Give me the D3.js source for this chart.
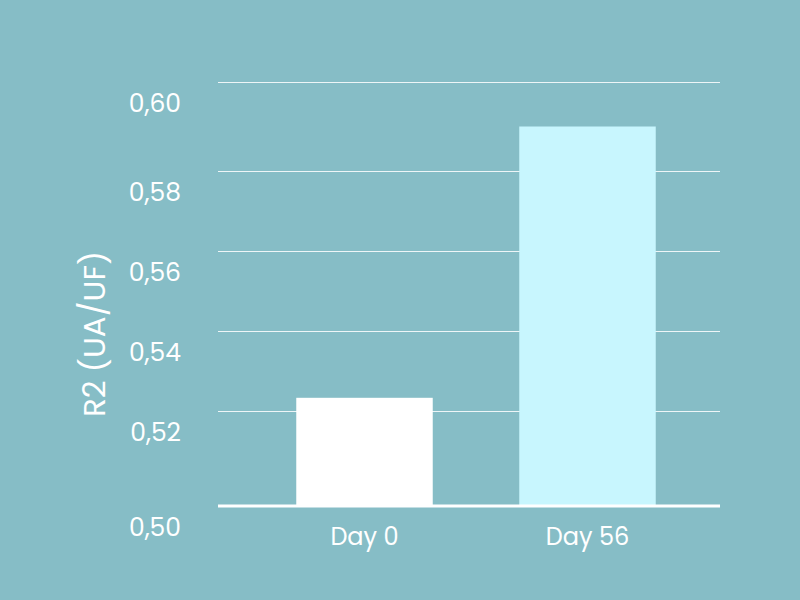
<!DOCTYPE html>
<html>
<head>
<meta charset="utf-8">
<style>
	body { margin: 0; background: #86bdc6; }
	.vis-r2 { width: 800px; height: 600px; }
	.grid-r2 { stroke: #ffffff; stroke-width: 1; stroke-opacity: 0.85; }
	.base-r2 { stroke: #ffffff; stroke-width: 3; }
	.tick-r2, .cat-r2, .title-r2 {
		fill: #ffffff;
		font-family: Poppins, "Noto Sans", sans-serif;
	}
</style>
</head>
<body>
<div class="vis-r2"></div>

<script src="https://d3js.org/d3.v7.min.js"></script>
<script>

	// Data
	let categories = ["Day 0", "Day 56"];
	let values = [0.5233, 0.590];
	let barColors = ["#ffffff", "#c8f6fe"];
	let tickValues = [0.50, 0.52, 0.54, 0.56, 0.58, 0.60];
	let tickLabels = ["0,50", "0,52", "0,54", "0,56", "0,58", "0,60"];

	// Setup
	let width = 800, height = 600;

	let svg = d3.select(".vis-r2")
		.append("svg")
			.attr("width", width)
			.attr("height", height);

	svg.append("rect")
		.attr("width", width)
		.attr("height", height)
		.style("fill", "#86bdc6");

	// Scales (the original axis is not evenly spaced at its ends)
	let y = d3.scaleLinear()
		.domain([0.50, 0.52, 0.58, 0.60])
		.range([506, 411, 171, 82]);

	let x = d3.scaleBand()
		.domain(categories)
		.range([253, 699])
		.paddingInner(0.388)
		.paddingOuter(0.194);

	let plotLeft = 218, plotRight = 720;

	// Gridlines
	svg.selectAll(".grid-r2")
		.data(tickValues.slice(1))
		.enter().append("line")
		.attr("class", "grid-r2")
		.attr("x1", plotLeft)
		.attr("x2", plotRight)
		.attr("y1", d => Math.round(y(d)) + 0.5)
		.attr("y2", d => Math.round(y(d)) + 0.5);

	// Tick labels, drawn below their lines
	svg.selectAll(".tick-r2")
		.data(tickValues)
		.enter().append("text")
		.attr("class", "tick-r2")
		.attr("x", 181)
		.attr("y", d => y(d) + 21)
		.attr("dy", "0.35em")
		.style("text-anchor", "end")
		.style("font-size", "25px")
		.text((d, i) => tickLabels[i]);

	// Bars
	svg.selectAll(".bar-r2")
		.data(values)
		.enter().append("rect")
		.attr("class", "bar-r2")
		.attr("x", (d, i) => x(categories[i]))
		.attr("width", x.bandwidth())
		.attr("y", d => y(d))
		.attr("height", d => y(0.50) - y(d))
		.style("fill", (d, i) => barColors[i]);

	// Baseline
	svg.append("line")
		.attr("class", "base-r2")
		.attr("x1", plotLeft)
		.attr("x2", plotRight)
		.attr("y1", y(0.50))
		.attr("y2", y(0.50));

	// Category labels
	svg.selectAll(".cat-r2")
		.data(categories)
		.enter().append("text")
		.attr("class", "cat-r2")
		.attr("x", d => x(d) + x.bandwidth() / 2)
		.attr("y", 537)
		.attr("dy", "0.35em")
		.style("text-anchor", "middle")
		.style("font-size", "24px")
		.text(d => d);

	// Y title
	svg.append("text")
		.attr("class", "title-r2")
		.attr("transform", "translate(94,334) rotate(-90)")
		.attr("dy", "0.35em")
		.style("text-anchor", "middle")
		.style("font-size", "31px")
		.text("R2 (UA/UF)");

</script>
</body>
</html>
